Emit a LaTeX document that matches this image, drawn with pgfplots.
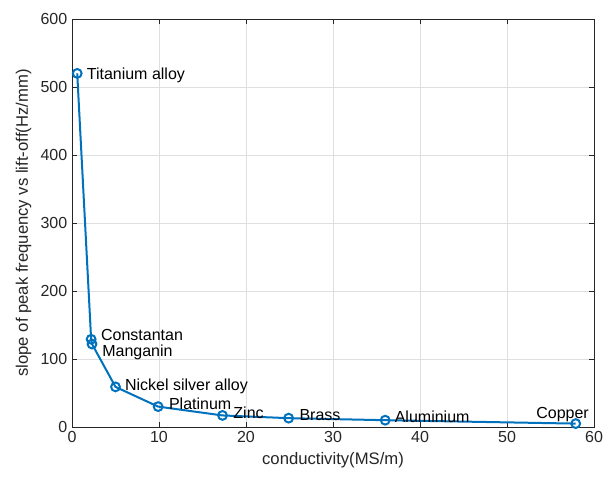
\documentclass[border=0pt]{standalone}
\usepackage{pgfplots}
\pgfplotsset{compat=1.18}
\usetikzlibrary{calc}
\usepackage{fontspec}
\setmainfont{Liberation Sans}
\definecolor{mblue}{RGB}{0,114,189}
\definecolor{axgray}{RGB}{38,38,38}
\definecolor{gridgray}{RGB}{223,223,223}
\begin{document}
\begin{tikzpicture}
\begin{axis}[
  scale only axis,
  width=391.5pt, height=306pt,
  xmin=0, xmax=60, ymin=0, ymax=600,
  xtick={0,10,...,60}, ytick={0,100,...,600},
  grid=major,
  major grid style={gridgray, line width=0.5pt},
  axis line style={axgray, line width=0.6pt},
  tick style={axgray, line width=0.6pt},
  tick align=inside,
  major tick length=4pt,
  xtick pos=both, ytick pos=both,
  tick label style={font=\fontsize{12}{14}\selectfont, text=axgray},
  label style={font=\fontsize{12.5}{15}\selectfont, text=axgray},
  /pgf/number format/assume math mode=true,
  xlabel={conductivity(MS/m)},
  ylabel={slope of peak frequency vs lift-off(Hz/mm)},
  clip=false,
]
\addplot[mblue, line width=1.5pt, mark=o, mark size=3.3pt, mark options={line width=1.5pt}]
coordinates {
(0.6,520) (2.2,129) (2.3,122) (5.0,59) (9.9,30) (17.3,17) (24.9,13) (36.0,10) (57.9,5)
};
\begin{scope}[font=\fontsize{12}{14}\selectfont, inner sep=0pt]
\node[anchor=base west] at ($(axis cs:0.6,520)+(7pt,-4.5pt)$) {Titanium alloy};
\node[anchor=base west] at ($(axis cs:2.2,129)+(7.3pt,-1pt)$) {Constantan};
\node[anchor=base west] at ($(axis cs:2.3,122)+(7.5pt,-9.6pt)$) {Manganin};
\node[anchor=base west] at ($(axis cs:5.0,59)+(7pt,-2.5pt)$) {Nickel silver alloy};
\node[anchor=base west] at ($(axis cs:9.9,30)+(8pt,-2.5pt)$) {Platinum};
\node[anchor=base west] at ($(axis cs:17.3,17)+(8pt,-2pt)$) {Zinc};
\node[anchor=base west] at ($(axis cs:24.9,13)+(8pt,-1.8pt)$) {Brass};
\node[anchor=base west] at ($(axis cs:36.0,10)+(7pt,-2pt)$) {Aluminium};
\node[anchor=base east] at ($(axis cs:57.9,5)+(10pt,4.2pt)$) {Copper};
\end{scope}
\coordinate (bl) at (rel axis cs:0,0);
\coordinate (tr) at (rel axis cs:1,1);
\end{axis}
\pgfresetboundingbox
\path[use as bounding box] ($(bl)+(-54pt,-38.25pt)$) rectangle ($(tr)+(14.25pt,14.25pt)$);
\end{tikzpicture}
\end{document}
